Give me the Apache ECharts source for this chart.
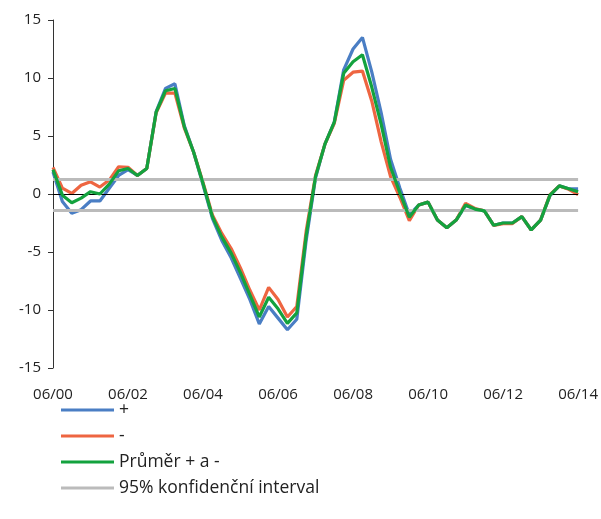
<!DOCTYPE html>
<html><head><meta charset="utf-8">
<script src="https://cdn.jsdelivr.net/npm/echarts@6/dist/echarts.min.js"></script>
<style>html,body{margin:0;padding:0;background:#fff}#c{width:601px;height:519px}</style>
</head><body><div id="c"></div>
<script>
const categories = ["06/00","09/00","12/00","03/01","06/01","09/01","12/01","03/02","06/02","09/02","12/02","03/03","06/03","09/03","12/03","03/04","06/04","09/04","12/04","03/05","06/05","09/05","12/05","03/06","06/06","09/06","12/06","03/07","06/07","09/07","12/07","03/08","06/08","09/08","12/08","03/09","06/09","09/09","12/09","03/10","06/10","09/10","12/10","03/11","06/11","09/11","12/11","03/12","06/12","09/12","12/12","03/13","06/13","09/13","12/13","03/14","06/14"];
const plusValues = [1.9,-0.65,-1.65,-1.35,-0.6,-0.6,0.5,1.6,2.1,1.6,2.2,7.1,9.1,9.5,5.9,3.6,0.8,-2.1,-4.0,-5.5,-7.3,-9.1,-11.2,-9.7,-10.7,-11.7,-10.8,-4.0,1.4,4.3,6.2,10.7,12.5,13.5,10.5,7.0,3.0,0.5,-1.8,-0.95,-0.7,-2.25,-2.9,-2.25,-1.0,-1.3,-1.45,-2.7,-2.5,-2.5,-1.95,-3.1,-2.25,-0.15,0.7,0.45,0.45];
const minusValues = [2.3,0.5,0.05,0.75,1.05,0.6,1.2,2.35,2.3,1.6,2.2,7.0,8.7,8.7,5.7,3.6,1.0,-1.8,-3.4,-4.7,-6.4,-8.3,-10.0,-8.05,-9.1,-10.6,-9.7,-3.2,1.6,4.3,6.1,9.8,10.5,10.6,8.0,4.5,1.5,-0.3,-2.3,-0.95,-0.7,-2.25,-2.9,-2.25,-0.8,-1.25,-1.45,-2.7,-2.55,-2.55,-1.95,-3.1,-2.25,-0.05,0.7,0.4,-0.05];
const averageValues = [2.1,-0.1,-0.75,-0.35,0.2,0.0,0.85,2.0,2.2,1.6,2.2,7.05,8.9,9.1,5.8,3.6,0.9,-1.95,-3.7,-5.1,-6.8,-8.7,-10.6,-8.9,-9.9,-11.15,-10.25,-3.6,1.5,4.3,6.2,10.4,11.4,12.0,9.2,6.0,2.3,0.1,-2.0,-0.95,-0.7,-2.25,-2.9,-2.25,-0.95,-1.3,-1.45,-2.7,-2.5,-2.5,-1.95,-3.1,-2.25,-0.1,0.7,0.45,0.2];
const confUpper = 1.3;
const confLower = -1.4;
const zeroLevel = 0;
const seriesNames = ["+", "-", "Průměr + a -", "95% konfidenční interval"];

const FONT = "Open Sans";
const chart = echarts.init(document.getElementById('c'), null, {renderer: 'canvas'});
function lineSeries(name, data, color, z) {
  return {
    name: name, type: 'line', data: data, symbol: 'none', z: z,
    lineStyle: {color: color, width: 3.2}, itemStyle: {color: color},
    emphasis: {disabled: true}
  };
}
chart.setOption({
  animation: false,
  grid: {left: 53, right: 21, top: 20, bottom: 151, containLabel: false},
  legend: {
    data: seriesNames, orient: 'vertical', left: 56, top: 396,
    icon: 'rect', itemWidth: 53, itemHeight: 3, itemGap: 8,
    textStyle: {fontFamily: FONT, fontSize: 17.5, lineHeight: 17, color: '#222'},
    selectedMode: false
  },
  xAxis: {
    type: 'category', data: categories, boundaryGap: false,
    axisLine: {show: false, onZero: false},
    axisTick: {show: false},
    splitLine: {show: false},
    axisLabel: {interval: 7, margin: 19, fontFamily: FONT, fontSize: 15, color: '#222', showMaxLabel: true, showMinLabel: true}
  },
  yAxis: {
    type: 'value', min: -15, max: 15, interval: 5,
    axisLine: {show: true, lineStyle: {color: '#333', width: 1}},
    axisTick: {show: true, length: 5, lineStyle: {color: '#333'}},
    splitLine: {show: false},
    axisLabel: {margin: 12, fontFamily: FONT, fontSize: 15, color: '#222'}
  },
  series: [
    {
      name: seriesNames[3], type: 'line', data: [], symbol: 'none', z: 1,
      lineStyle: {color: '#BBBBBB', width: 3}, itemStyle: {color: '#BBBBBB'},
      markLine: {
        silent: true, symbol: ['none', 'none'], label: {show: false}, animation: false,
        data: [
          {yAxis: zeroLevel, lineStyle: {color: '#000', width: 1, type: 'solid'}},
          {yAxis: confUpper, lineStyle: {color: '#BBBBBB', width: 3, type: 'solid'}},
          {yAxis: confLower, lineStyle: {color: '#BBBBBB', width: 3, type: 'solid'}}
        ]
      }
    },
    lineSeries(seriesNames[0], plusValues, '#4A7EC4', 3),
    lineSeries(seriesNames[1], minusValues, '#EE6541', 4),
    lineSeries(seriesNames[2], averageValues, '#13A23E', 5)
  ]
});
</script></body></html>
